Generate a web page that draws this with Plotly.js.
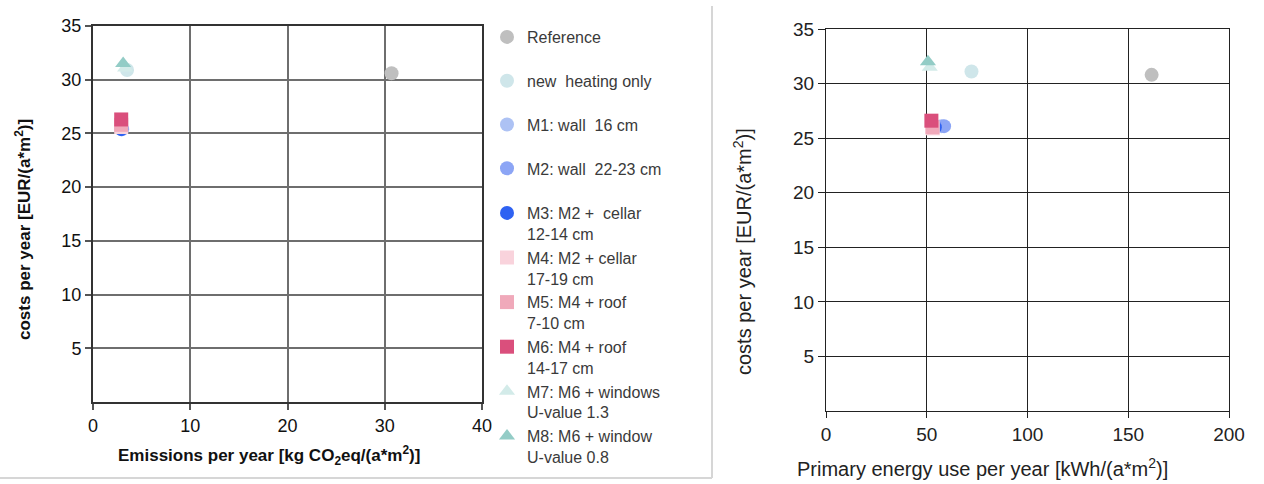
<!DOCTYPE html>
<html>
<head>
<meta charset="utf-8">
<script src="https://cdn.plot.ly/plotly-3.0.1.min.js"></script>
<style>html,body{margin:0;padding:0;background:#fff;} #chart{width:1264px;height:484px;}</style>
</head>
<body>
<div id="chart"></div>
<script>
// ---- data ----
const seriesNames = [
  "Reference",
  "new  heating only",
  "M1: wall  16 cm",
  "M2: wall  22-23 cm",
  "M3: M2 +  cellar<br>12-14 cm",
  "M4: M2 + cellar<br>17-19 cm",
  "M5: M4 + roof<br>7-10 cm",
  "M6: M4 + roof<br>14-17 cm",
  "M7: M6 + windows<br>U-value 1.3",
  "M8: M6 + window<br>U-value 0.8"
];
// left chart: emissions [kg CO2eq/(a*m2)] vs costs [EUR/(a*m2)]
const emissions   = [30.7, 3.5, 2.9, 3.0, 2.9, 2.9, 2.9, 2.9, 3.3, 3.1];
const costsLeft   = [30.6, 30.9, 25.5, 25.4, 25.4, 25.6, 25.8, 26.3, 31.1, 31.5];
// right chart: primary energy [kWh/(a*m2)] vs costs [EUR/(a*m2)]
const primaryEnergy = [161.6, 72.2, 57.3, 58.6, 54.0, 53.0, 52.8, 52.3, 51.5, 50.6];
const costsRight    = [30.8, 31.1, 26.1, 26.1, 26.0, 25.9, 26.0, 26.6, 31.5, 32.0];

const xTicksLeft  = [0, 10, 20, 30, 40];
const xTicksRight = [0, 50, 100, 150, 200];
const yTicks      = [5, 10, 15, 20, 25, 30, 35];

// ---- styles ----
const colors  = ["#bfbfbf", "#cfe6ea", "#adc2f4", "#8ca5f5", "#2f62f2", "#f9d3dc", "#f0a9ba", "#da4f7c", "#d3ebe9", "#93ccc6"];
const symbols = ["circle", "circle", "circle", "circle", "circle", "square", "square", "square", "triangle-up", "triangle-up"];

const traces = [];
seriesNames.forEach((n, i) => {
  const twoLine = n.indexOf("<br>") >= 0;
  traces.push({
    type: "scatter", mode: "markers", name: n,
    x: [emissions[i]], y: [costsLeft[i]], xaxis: "x", yaxis: "y",
    marker: {color: colors[i], symbol: symbols[i], size: 14, line: {width: 0}},
    showlegend: true, legend: twoLine ? "legend2" : "legend",
    legendgroup: "g" + i, hoverinfo: "x+y+name"
  });
});
seriesNames.forEach((n, i) => {
  traces.push({
    type: "scatter", mode: "markers", name: n,
    x: [primaryEnergy[i]], y: [costsRight[i]], xaxis: "x2", yaxis: "y2",
    marker: {color: colors[i], symbol: symbols[i], size: 14, line: {width: 0}},
    showlegend: false, legendgroup: "g" + i, hoverinfo: "x+y+name"
  });
});

const W = 1264, H = 484;
const px = v => v / W, py = v => 1 - v / H;

const FAM = "Liberation Sans, Arial, sans-serif";
const leftTickFont  = {family: FAM, size: 18, color: "#111"};
const rightTickFont = {family: FAM, size: 19, color: "#222"};
const legendFont = {family: FAM, size: 16, color: "#3a3a3a"};

const layout = {
  width: W, height: H,
  margin: {l: 0, r: 0, t: 0, b: 0},
  paper_bgcolor: "#fff", plot_bgcolor: "#fff",
  showlegend: true,
  legend: {
    x: px(487), y: py(20), xanchor: "left", yanchor: "top",
    font: legendFont, valign: "top", bgcolor: "rgba(0,0,0,0)", borderwidth: 0,
    tracegroupgap: 20
  },
  legend2: {
    x: px(487), y: py(196), xanchor: "left", yanchor: "top",
    font: legendFont, valign: "top", bgcolor: "rgba(0,0,0,0)", borderwidth: 0,
    tracegroupgap: 0
  },
  xaxis: {
    domain: [px(93), px(482)], anchor: "y", range: [0, 40],
    tickvals: xTicksLeft, ticks: "outside", ticklen: 6, tickwidth: 2, tickcolor: "#555",
    showgrid: true, gridcolor: "#6e6e6e", gridwidth: 2,
    showline: true, linecolor: "#333", linewidth: 2, mirror: true, zeroline: false,
    tickfont: leftTickFont, fixedrange: true
  },
  yaxis: {
    domain: [1 - 402 / H, 1 - 26 / H], anchor: "x", range: [0, 35],
    tickvals: yTicks, ticks: "outside", ticklen: 6, tickwidth: 2, tickcolor: "#555",
    showgrid: true, gridcolor: "#6e6e6e", gridwidth: 2,
    showline: true, linecolor: "#333", linewidth: 2, mirror: true, zeroline: false,
    tickfont: leftTickFont, fixedrange: true
  },
  xaxis2: {
    domain: [px(826), px(1229)], anchor: "y2", range: [0, 200],
    tickvals: xTicksRight, ticks: "outside", ticklen: 6, tickwidth: 1, tickcolor: "#222",
    showgrid: true, gridcolor: "#222", gridwidth: 1,
    showline: true, linecolor: "#222", linewidth: 1, mirror: true, zeroline: false,
    tickfont: rightTickFont, fixedrange: true
  },
  yaxis2: {
    domain: [1 - 411 / H, 1 - 29 / H], anchor: "x2", range: [0, 35],
    tickvals: yTicks, ticks: "outside", ticklen: 7, tickwidth: 1, tickcolor: "#222",
    showgrid: true, gridcolor: "#222", gridwidth: 1,
    showline: true, linecolor: "#222", linewidth: 1, mirror: true, zeroline: false,
    tickfont: rightTickFont, fixedrange: true
  },
  annotations: [
    {text: "costs per year [EUR/(a*m<sup>2</sup>)]", textangle: -90, xref: "paper", yref: "paper",
     x: px(23), y: py(230), xanchor: "center", yanchor: "middle", showarrow: false,
     font: {family: FAM, size: 17, color: "#111", weight: "bold"}},
    {text: "Emissions per year [kg CO<sub>2</sub>eq/(a*m<sup>2</sup>)]", xref: "paper", yref: "paper",
     x: px(269), y: py(455), xanchor: "center", yanchor: "middle", showarrow: false,
     font: {family: FAM, size: 17, color: "#111", weight: "bold"}},
    {text: "costs per year [EUR/(a*m<sup>2</sup>)]", textangle: -90, xref: "paper", yref: "paper",
     x: px(742), y: py(252), xanchor: "center", yanchor: "middle", showarrow: false,
     font: {family: FAM, size: 20, color: "#222"}},
    {text: "Primary energy use per year [kWh/(a*m<sup>2</sup>)]", xref: "paper", yref: "paper",
     x: px(982), y: py(467), xanchor: "center", yanchor: "middle", showarrow: false,
     font: {family: FAM, size: 20, color: "#222"}}
  ],
  shapes: [
    {type: "line", xref: "paper", yref: "paper", x0: px(712), x1: px(712), y0: py(6), y1: py(478),
     line: {color: "#d6d6d6", width: 2}},
    {type: "line", xref: "paper", yref: "paper", x0: 0, x1: px(712), y0: py(478), y1: py(478),
     line: {color: "#d6d6d6", width: 2}}
  ]
};

Plotly.newPlot("chart", traces, layout, {displayModeBar: false, staticPlot: true});
</script>
</body>
</html>
